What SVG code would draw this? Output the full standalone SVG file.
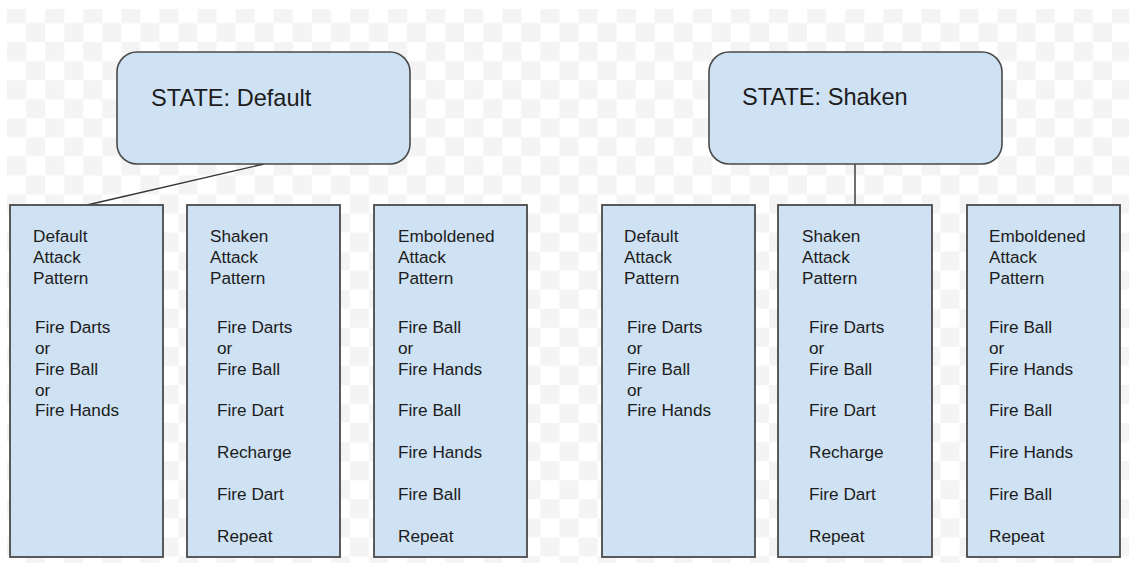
<svg xmlns="http://www.w3.org/2000/svg" width="1129" height="563" viewBox="0 0 1129 563">
  <defs>
    <pattern id="checker" patternUnits="userSpaceOnUse" x="7" y="3.95" width="38.1" height="38.1">
      <rect x="0" y="0" width="19.05" height="19.05" fill="#f4f4f4"/>
      <rect x="19.05" y="19.05" width="19.05" height="19.05" fill="#f4f4f4"/>
    </pattern>
    <style>
      .state { fill: #cfe2f3; stroke: #4a4a4a; stroke-width: 1.6; }
      .box { fill: #cfe2f3; stroke: #4a4a4a; stroke-width: 1.8; }
      .title { font-family: "Liberation Sans", Arial, sans-serif; font-size: 23.6px; fill: #1c1c1c; }
      .label { font-family: "Liberation Sans", Arial, sans-serif; font-size: 17.2px; fill: #1c1c1c; }
      .conn { stroke: #333333; stroke-width: 1.4; fill: none; }
    </style>
  </defs>

  <!-- canvas -->
  <rect x="0" y="0" width="1129" height="563" fill="#ffffff"/>
  <rect x="7" y="9" width="1122" height="554" fill="url(#checker)"/>

  <!-- connectors -->
  <g id="connectors">
    <line class="conn" x1="264" y1="164" x2="87" y2="205"/>
    <line class="conn" x1="855" y1="164" x2="855" y2="212"/>
  </g>

  <!-- state nodes -->
  <g id="state-default">
    <rect class="state" x="117" y="52" width="293" height="112" rx="20" ry="20"/>
    <text class="title" x="151" y="106">STATE: Default</text>
  </g>
  <g id="state-shaken">
    <rect class="state" x="709" y="52" width="293" height="112" rx="20" ry="20"/>
    <text class="title" x="742" y="105">STATE: Shaken</text>
  </g>

  <!-- attack pattern boxes, left group -->
  <g id="default-pattern-1">
    <rect class="box" x="10" y="205" width="153" height="352"/>
    <text class="label" x="33" y="242">Default</text>
    <text class="label" x="33" y="263">Attack</text>
    <text class="label" x="33" y="284">Pattern</text>
    <text class="label" x="35" y="333">Fire Darts</text>
    <text class="label" x="35" y="354">or</text>
    <text class="label" x="35" y="374.7">Fire Ball</text>
    <text class="label" x="35" y="395.5">or</text>
    <text class="label" x="35" y="416.4">Fire Hands</text>
  </g>
  <g id="shaken-pattern-1">
    <rect class="box" x="187" y="205" width="153" height="352"/>
    <text class="label" x="210" y="242">Shaken</text>
    <text class="label" x="210" y="263">Attack</text>
    <text class="label" x="210" y="284">Pattern</text>
    <text class="label" x="217" y="333">Fire Darts</text>
    <text class="label" x="217" y="354">or</text>
    <text class="label" x="217" y="374.7">Fire Ball</text>
    <text class="label" x="217" y="416.4">Fire Dart</text>
    <text class="label" x="217" y="458.1">Recharge</text>
    <text class="label" x="217" y="499.8">Fire Dart</text>
    <text class="label" x="217" y="541.5">Repeat</text>
  </g>
  <g id="emboldened-pattern-1">
    <rect class="box" x="374" y="205" width="153" height="352"/>
    <text class="label" x="398" y="242">Emboldened</text>
    <text class="label" x="398" y="263">Attack</text>
    <text class="label" x="398" y="284">Pattern</text>
    <text class="label" x="398" y="333">Fire Ball</text>
    <text class="label" x="398" y="354">or</text>
    <text class="label" x="398" y="374.7">Fire Hands</text>
    <text class="label" x="398" y="416.4">Fire Ball</text>
    <text class="label" x="398" y="458.1">Fire Hands</text>
    <text class="label" x="398" y="499.8">Fire Ball</text>
    <text class="label" x="398" y="541.5">Repeat</text>
  </g>

  <!-- attack pattern boxes, right group -->
  <g id="default-pattern-2">
    <rect class="box" x="602" y="205" width="153" height="352"/>
    <text class="label" x="624" y="242">Default</text>
    <text class="label" x="624" y="263">Attack</text>
    <text class="label" x="624" y="284">Pattern</text>
    <text class="label" x="627" y="333">Fire Darts</text>
    <text class="label" x="627" y="354">or</text>
    <text class="label" x="627" y="374.7">Fire Ball</text>
    <text class="label" x="627" y="395.5">or</text>
    <text class="label" x="627" y="416.4">Fire Hands</text>
  </g>
  <g id="shaken-pattern-2">
    <rect class="box" x="778" y="205" width="154" height="352"/>
    <text class="label" x="802" y="242">Shaken</text>
    <text class="label" x="802" y="263">Attack</text>
    <text class="label" x="802" y="284">Pattern</text>
    <text class="label" x="809" y="333">Fire Darts</text>
    <text class="label" x="809" y="354">or</text>
    <text class="label" x="809" y="374.7">Fire Ball</text>
    <text class="label" x="809" y="416.4">Fire Dart</text>
    <text class="label" x="809" y="458.1">Recharge</text>
    <text class="label" x="809" y="499.8">Fire Dart</text>
    <text class="label" x="809" y="541.5">Repeat</text>
  </g>
  <g id="emboldened-pattern-2">
    <rect class="box" x="967" y="205" width="153" height="352"/>
    <text class="label" x="989" y="242">Emboldened</text>
    <text class="label" x="989" y="263">Attack</text>
    <text class="label" x="989" y="284">Pattern</text>
    <text class="label" x="989" y="333">Fire Ball</text>
    <text class="label" x="989" y="354">or</text>
    <text class="label" x="989" y="374.7">Fire Hands</text>
    <text class="label" x="989" y="416.4">Fire Ball</text>
    <text class="label" x="989" y="458.1">Fire Hands</text>
    <text class="label" x="989" y="499.8">Fire Ball</text>
    <text class="label" x="989" y="541.5">Repeat</text>
  </g>
</svg>
